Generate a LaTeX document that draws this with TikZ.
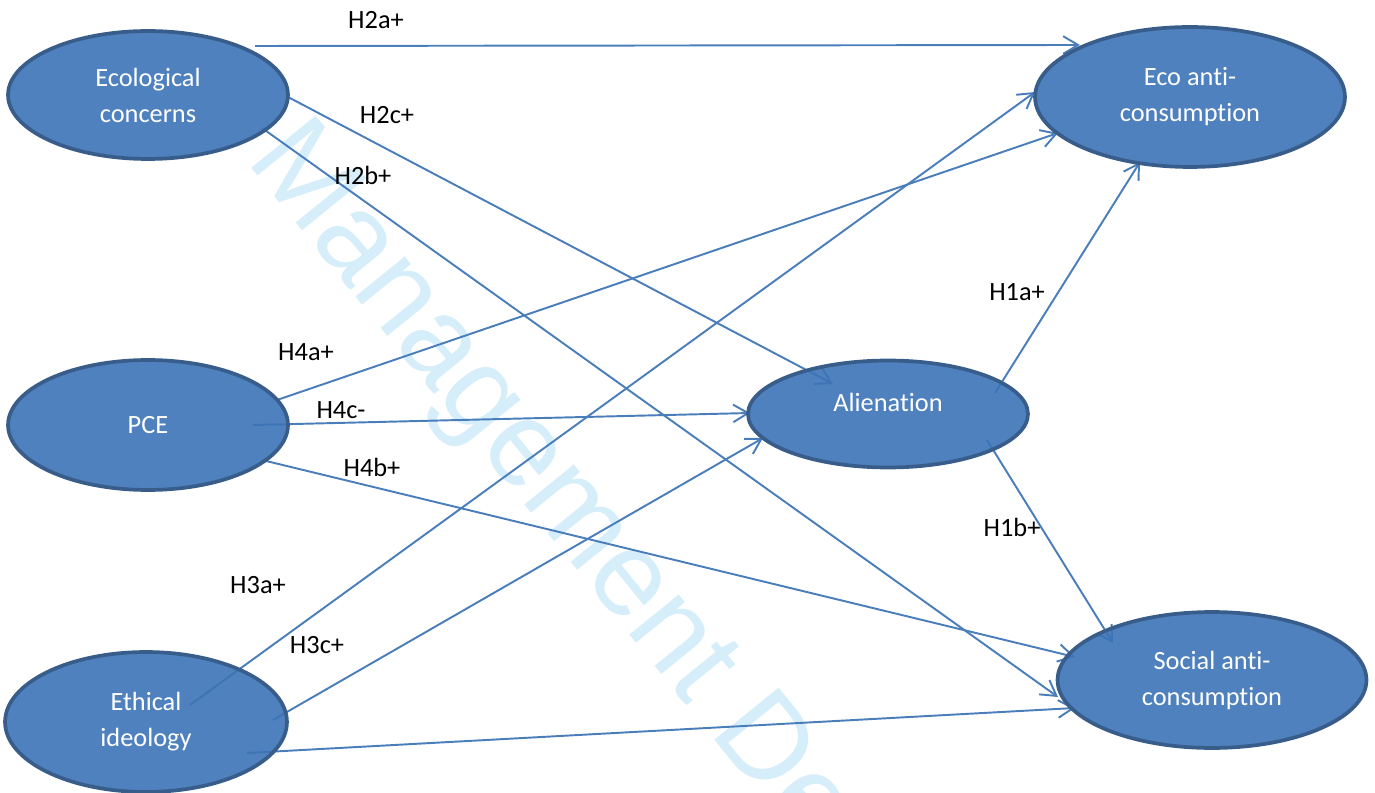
\documentclass[tikz,border=0pt]{standalone}
\usepackage{fontspec}
\setmainfont[RawFeature={-liga}]{Carlito}
\newfontfamily\wmfont{Liberation Sans}
\usetikzlibrary{shapes.geometric,arrows.meta,calc}
\pgfdeclarelayer{bg}
\pgfsetlayers{bg,main}
\definecolor{nodefill}{RGB}{59,115,182}
\definecolor{nodeedge}{HTML}{385D8A}
\definecolor{edgeblue}{HTML}{4A7EBB}
\definecolor{wmblue}{RGB}{214,238,250}
\begin{document}
\begin{tikzpicture}[x=0.02cm,y=-0.02cm,
  var/.style={ellipse, draw=nodeedge, line width=2.1pt, fill=nodefill, fill opacity=0.9, text opacity=1, text=white, align=center, font=\fontsize{15}{20.5}\selectfont, inner sep=0pt},
  hyp/.style={font=\fontsize{15}{18}\selectfont, text=black, inner sep=0pt},
  link/.style={draw=edgeblue, line width=1.1pt, -{Straight Barb[length=8.5pt,width=10pt]}},
  wm/.style={text=wmblue, font=\wmfont\fontsize{68.6}{80}\selectfont, inner sep=0pt, anchor=base west, rotate=-51}
]
\useasboundingbox (0,0) rectangle (1375,793);

% variables
\node[var, minimum width=5.6cm, minimum height=2.56cm] (ec) at (148,95) {Ecological\\concerns};
\node[var, minimum width=5.6cm, minimum height=2.6cm] (pce) at (148,425) {PCE};
\node[var, minimum width=5.64cm, minimum height=2.8cm] (ei) at (146,722) {Ethical\\ideology};
\node[var, minimum width=5.6cm, minimum height=2.14cm] (al) at (888,414) {\raisebox{1.7pt}[0pt][0pt]{Alienation}};
\node[var, minimum width=6.2cm, minimum height=2.8cm] (eac) at (1190,97) {Eco anti-\\consumption};
\node[var, minimum width=6.18cm, minimum height=2.72cm] (sac) at (1212,680) {Social anti-\\consumption};

% hypothesis labels
\node[hyp] (l2a) at (376,20) {H2a+};
\node[hyp] (l2c) at (387,115) {H2c+};
\node[hyp] (l2b) at (363,175) {H2b+};
\node[hyp] (l4a) at (306,352) {H4a+};
\node[hyp] (l4c) at (341,410) {H4c-};
\node[hyp] (l4b) at (372,467) {H4b+};
\node[hyp] (l3a) at (258,585) {H3a+};
\node[hyp] (l3c) at (317,645) {H3c+};
\node[hyp] (l1a) at (1017,292) {H1a+};
\node[hyp] (l1b) at (1012,527) {H1b+};

\begin{pgfonlayer}{bg}
  \node[wm] (wmark) at (245,160) {Management De};
  % H2
  \draw[link] ($(ec.center)+(107,-49)$) -- ($(eac.center)+(-110,-52)$);
  \draw[link] ($(ec.center)+(140,2)$) -- ($(al.center)+(-55,-30)$);
  \draw[link] ($(ec.center)+(114,33)$) -- ($(sac.center)+(-154,17)$);
  % H4
  \draw[link] ($(pce.center)+(129,-25)$) -- ($(eac.center)+(-132,36)$);
  \draw[link] ($(pce.center)+(105,0)$) -- ($(al.center)+(-138,-1)$);
  \draw[link] ($(pce.center)+(114,35)$) -- ($(sac.center)+(-137,-23)$);
  % H3
  \draw[link] ($(ei.center)+(44,-17)$) -- ($(eac.center)+(-155,-5)$);
  \draw[link] ($(ei.center)+(127,-2)$) -- ($(al.center)+(-125,24)$);
  \draw[link] ($(ei.center)+(101,31)$) -- ($(sac.center)+(-137,28)$);
  % H1
  \draw[link] ($(al.center)+(107,-21)$) -- ($(eac.center)+(-50,65)$);
  \draw[link] ($(al.center)+(99,26)$) -- ($(sac.center)+(-99,-37)$);
\end{pgfonlayer}
\end{tikzpicture}
\end{document}
